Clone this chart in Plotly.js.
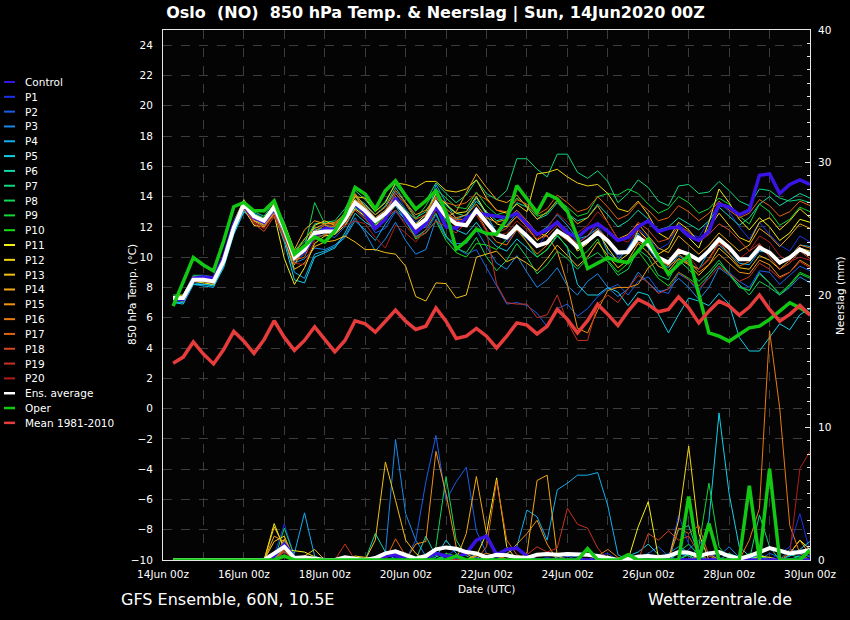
<!DOCTYPE html>
<html>
<head>
<meta charset="utf-8">
<script src="https://cdn.plot.ly/plotly-3.0.1.min.js"></script>
<style>
html,body{margin:0;padding:0;background:#000;}
#chart{width:850px;height:620px;}
</style>
</head>
<body>
<div id="chart"></div>
<script>
// ---------- DATA ----------
// 6-hourly steps from 14Jun2020 06z to 30Jun2020 00z (lead hours)
const leadHours = Array.from({length: 64}, (_, k) => 6 * (k + 1));
const tickLabels = ['14Jun 00z','16Jun 00z','18Jun 00z','20Jun 00z','22Jun 00z','24Jun 00z','26Jun 00z','28Jun 00z','30Jun 00z'];

const seriesNames = ['Control','P1','P2','P3','P4','P5','P6','P7','P8','P9','P10',
  'P11','P12','P13','P14','P15','P16','P17','P18','P19','P20'];
const seriesColors = ['#3a14e6','#1a30e8','#1a5ce8','#1a88ea','#12aef0','#12cfe6','#12d6a4','#12d67c','#12d656','#12d634','#14de14',
  '#f2f014','#f2d412','#f2c012','#f2a812','#f09212','#e87a12','#e06212','#d64624','#c83222','#b01c1c'];

// 850 hPa temperature (°C)
const t_ctrl = [7.2,7.2,8.6,8.7,8.6,10.0,12.2,13.4, 12.6,12.3,13.2,11.8,10.0,10.4,11.4,11.9, 11.8,12.6,13.5,12.9,11.9,12.5,13.9,12.6, 11.6,12.2,13.4,12.0,11.9,12.6,12.9,12.8, 12.7,12.6,12.9,12.2,11.5,11.8,12.3,11.6, 11.3,11.9,12.2,11.7,11.1,11.3,12.0,12.4, 11.7,11.9,12.0,11.4,11.1,11.7,13.5,13.3, 12.8,13.1,15.4,15.5,14.2,14.8,15.1,14.8];
const t_p1 = [7.4,7.4,8.7,8.6,8.5,9.9,12.1,13.3, 12.9,12.6,13.4,12.0,10.2,10.8,11.9,12.1, 12.0,12.9,14.1,13.4,12.6,13.1,14.3,13.2, 12.3,12.8,14.0,13.0,12.4,12.5,13.3,12.4, 11.7,11.0,11.8,11.2,10.6,11.6,12.4,11.8, 11.0,11.4,12.1,11.0,10.0,10.6,11.9,11.3, 10.5,10.9,12.2,11.6,11.3,12.4,13.6,13.0, 12.0,11.2,12.3,11.5,10.8,10.4,11.4,11.0];
const t_p2 = [7.1,7.2,8.4,8.4,8.3,9.6,11.8,13.3, 12.5,12.2,13.0,11.6,9.7,10.2,11.3,11.5, 11.3,12.0,13.2,12.6,11.6,11.9,13.0,12.3, 11.4,11.6,12.8,11.3,10.6,10.2,10.5,9.3, 8.0,6.9,7.0,6.8,6.3,5.4,6.6,6.9, 6.1,6.6,7.4,7.9,8.2,7.5,8.4,8.7, 7.8,7.6,8.9,8.5,7.7,8.8,9.6,9.0, 8.4,8.0,9.1,9.0,8.2,8.8,9.4,9.1];
const t_p3 = [7.3,7.1,8.3,8.2,8.2,9.5,11.7,13.0, 12.4,12.1,12.9,11.4,9.6,9.9,10.6,10.5, 10.8,11.4,12.6,11.6,10.4,11.2,12.3,11.1, 10.2,10.5,12.5,11.3,10.9,10.9,11.8,10.7, 9.6,9.2,10.1,9.0,8.0,8.5,9.3,8.1, 7.5,8.4,8.9,8.0,7.4,7.9,9.0,8.3, 7.7,7.9,8.6,8.0,7.2,8.0,9.3,8.8, 8.1,7.8,9.0,8.3,7.5,8.0,8.7,8.3];
const t_p4 = [7.0,7.0,8.2,8.1,8.0,9.4,11.6,13.1, 12.6,12.2,13.1,11.2,9.0,8.6,10.2,10.4, 10.7,11.3,12.4,11.8,11.1,12.2,13.1,12.5, 11.8,12.3,14.8,13.6,12.5,12.8,13.9,12.8, 11.6,12.1,12.9,12.2,11.5,12.0,12.8,12.1, 11.2,11.4,11.9,10.3,9.8,10.6,11.6,10.6, 9.7,9.3,10.1,9.6,9.2,10.4,10.8,10.2, 9.6,9.5,10.4,10.3,9.6,10.0,10.8,10.7];
const t_p5 = [7.0,6.9,8.2,8.2,8.1,9.3,11.5,13.0, 12.7,12.2,12.8,11.0,8.5,8.3,10.0,10.3, 10.6,11.6,12.9,12.3,11.9,12.6,13.4,12.4, 11.7,12.0,13.2,12.4,11.8,11.5,12.3,11.4, 10.7,10.4,11.2,10.6,10.0,10.5,11.4,10.7, 8.2,7.5,7.5,8.0,7.7,6.8,7.7,7.5, 6.3,5.0,6.2,7.3,7.1,6.8,7.6,6.9, 4.7,3.8,3.8,4.7,5.6,5.2,6.2,6.6];
const t_p6 = [7.3,7.3,8.5,8.6,8.5,9.9,12.1,13.6, 12.9,12.5,13.5,12.1,10.1,10.7,11.8,11.9, 12.0,12.9,14.0,13.5,12.8,13.4,14.6,13.6, 12.6,13.0,14.2,13.4,12.9,12.7,13.7,13.0, 12.4,12.6,13.6,13.3,12.5,12.8,13.6,12.9, 12.4,12.6,13.5,12.8,12.0,12.4,13.1,12.5, 11.8,12.0,12.6,12.2,11.8,12.4,13.3,12.7, 12.1,12.6,13.5,14.0,13.4,13.8,14.2,13.9];
const t_p7 = [7.5,7.5,8.8,8.8,8.7,10.1,12.4,13.7, 13.0,12.7,13.7,12.3,10.4,11.0,12.2,12.3, 12.4,13.2,14.4,13.8,13.0,13.7,14.8,14.0, 13.2,13.7,14.9,14.2,13.6,14.1,15.1,14.2, 13.8,14.4,16.5,16.5,15.8,15.3,16.8,16.8, 15.6,15.2,15.7,15.0,13.6,14.2,15.1,14.6, 13.7,13.4,14.7,14.8,14.2,14.3,15.0,14.4, 13.7,13.4,14.5,14.4,13.9,13.7,13.8,13.6];
const t_p8 = [7.2,7.3,8.6,8.5,8.4,9.8,12.0,13.4, 12.6,12.3,13.3,11.6,9.9,10.6,13.6,12.2, 11.6,12.3,13.3,12.8,12.1,12.9,13.8,12.5, 11.3,11.8,12.9,11.4,10.6,10.3,11.3,10.0, 9.1,9.8,10.9,10.0,8.9,9.5,10.4,9.9, 9.2,9.9,10.3,9.7,8.8,9.2,10.5,10.0, 8.8,8.5,9.8,9.2,8.4,9.0,9.8,8.9, 8.2,7.5,8.4,8.0,7.5,8.1,8.9,8.6];
const t_p9 = [7.1,7.1,8.4,8.4,8.3,9.7,11.9,13.5, 12.8,12.5,13.4,12.2,10.4,11.2,12.0,11.8, 11.8,12.6,13.8,13.3,12.5,13.0,14.0,13.1, 12.5,13.4,14.5,13.9,13.3,13.2,14.3,13.4, 12.8,13.0,13.9,13.4,12.7,12.9,13.8,13.3, 12.7,12.9,14.0,14.2,14.1,14.5,14.2,13.5, 12.9,13.2,14.0,13.6,12.9,13.2,13.9,13.5, 12.7,12.2,13.5,13.0,12.1,12.5,13.3,13.0];
const t_p10 = [7.4,7.4,8.6,8.7,8.6,10.0,12.2,13.5, 12.8,12.6,13.5,12.1,10.3,10.6,11.2,11.5, 11.9,12.8,14.0,13.2,12.2,12.7,13.7,12.4, 11.2,11.6,12.4,11.1,10.3,10.0,10.9,10.8, 10.5,11.2,12.0,11.0,10.0,10.5,11.5,10.6, 9.9,10.4,11.2,9.8,9.0,9.6,10.4,9.5, 8.6,8.1,9.0,8.6,8.1,8.8,9.6,8.9, 8.0,7.8,8.9,8.3,7.6,8.2,9.0,8.7];
const t_p11 = [7.2,7.1,8.4,8.3,8.2,9.6,11.8,13.2, 12.1,12.0,12.8,9.9,8.2,9.3,10.9,11.4, 11.5,12.1,13.2,12.7,12.1,12.6,13.9,12.9, 12.2,12.8,14.2,13.5,12.9,13.0,14.0,12.9, 12.2,12.0,12.7,12.0,11.1,11.6,12.4,11.5, 10.4,10.9,11.7,10.6,9.7,10.2,11.8,11.1, 10.2,10.6,11.9,11.3,10.6,12.3,14.5,13.6, 12.5,11.8,12.6,12.0,11.1,11.6,12.5,12.3];
const t_p12 = [7.3,7.4,8.6,8.6,8.5,9.8,12.1,13.6, 12.4,12.2,13.2,11.5,9.5,10.6,12.1,12.4, 12.1,12.7,14.0,13.9,13.0,13.6,14.9,14.8, 14.6,15.0,15.0,14.4,14.3,14.5,15.1,13.9, 13.1,12.9,13.5,13.0,15.5,15.6,15.8,15.3, 14.9,14.7,14.8,14.2,13.2,13.0,13.7,12.8, 11.6,11.2,12.3,11.8,11.0,11.9,12.9,12.1, 11.3,11.0,12.3,12.6,11.8,12.4,13.2,12.6];
const t_p13 = [7.1,7.2,8.5,8.4,8.3,9.7,11.9,13.3, 12.5,12.1,12.9,11.3,9.2,9.6,10.7,11.0, 11.1,11.4,11.0,10.5,10.5,10.3,10.2,9.4, 7.4,7.1,8.3,8.25,7.3,7.5,10.0,10.2, 10.4,9.7,10.0,9.6,9.1,9.9,10.8,10.1, 9.4,10.0,11.0,10.1,9.3,9.8,10.9,10.3, 9.4,9.1,9.9,9.5,8.8,9.5,10.6,10.0, 9.3,9.2,10.1,9.8,9.2,9.8,10.6,10.4];
const t_p14 = [7.4,7.5,8.7,8.7,8.6,10.1,12.3,13.8, 12.7,12.3,13.6,12.2,10.5,11.8,12.4,12.2, 12.2,12.9,14.2,13.3,12.6,13.1,14.0,12.8, 12.1,12.6,13.3,12.6,13.0,14.2,15.5,14.6, 13.8,13.6,14.1,13.3,12.5,13.0,13.7,12.9, 12.2,12.6,13.4,12.3,11.2,11.5,12.2,11.4, 10.6,10.3,11.4,10.8,10.2,10.8,11.6,11.0, 10.4,10.8,11.9,11.4,10.7,11.4,12.2,11.9];
const t_p15 = [7.2,7.3,8.6,8.5,8.4,9.9,12.1,13.5, 12.4,12.0,12.9,11.7,10.2,11.2,11.9,12.2, 12.3,12.8,13.8,13.4,12.8,13.3,14.4,13.6, 12.8,13.1,13.9,13.2,12.6,12.8,13.5,12.6, 12.3,12.5,13.1,12.4,11.6,11.4,10.4,8.2, 5.3,5.0,6.5,7.8,8.0,8.0,8.2,9.3, 9.8,9.5,10.2,9.7,9.0,9.5,10.2,9.6, 9.0,8.9,9.8,9.5,8.7,9.0,9.8,9.4];
const t_p16 = [7.3,7.2,8.5,8.6,8.5,9.9,12.0,13.6, 12.8,12.4,13.4,11.9,9.9,10.5,11.7,12.1, 12.0,12.9,14.1,13.1,12.0,12.7,13.6,12.8, 11.8,12.4,13.6,12.9,12.5,12.5,13.0,11.8, 11.0,10.8,11.8,11.0,10.2,10.8,11.6,11.1, 10.6,11.1,11.9,11.2,10.4,10.2,11.0,10.7, 9.9,9.4,9.9,9.6,9.2,9.9,11.0,10.2, 9.4,9.7,10.8,10.3,9.5,10.0,10.8,10.6];
const t_p17 = [7.4,7.4,8.7,8.6,8.5,9.9,12.1,13.4, 12.3,11.9,13.1,11.8,9.8,10.0,11.5,11.9, 12.1,12.9,13.8,13.2,12.4,13.0,14.2,13.5, 12.5,12.8,14.0,13.6,13.4,13.6,14.2,13.8, 13.1,13.0,13.8,13.5,12.8,13.2,14.1,13.6, 13.0,13.2,14.0,13.3,12.5,12.8,13.6,13.1, 12.4,12.6,13.4,13.0,12.4,12.9,13.7,13.1, 12.6,12.9,13.8,13.4,12.7,13.0,13.7,13.4];
const t_p18 = [7.2,7.3,8.5,8.4,8.3,9.7,11.9,13.3, 12.2,11.7,12.7,11.2,9.8,10.3,11.2,11.5, 11.6,12.2,13.1,12.5,11.8,12.4,13.5,12.7, 11.9,12.3,13.5,12.9,12.4,12.2,13.1,12.2, 11.6,11.9,12.7,12.0,11.2,11.4,12.1,11.5, 10.9,11.4,12.3,11.8,11.1,11.4,12.3,11.8, 11.0,11.2,12.0,11.7,11.0,11.5,12.2,11.8, 11.1,10.4,10.9,10.0,9.2,9.6,10.4,9.9];
const t_p19 = [7.3,7.4,8.6,8.5,8.5,9.8,12.0,13.4, 12.5,12.3,13.2,12.0,10.1,10.6,11.6,11.8, 11.6,12.4,13.5,12.7,12.0,12.6,13.1,12.1, 11.3,11.6,12.4,12.0,11.6,12.3,12.8,11.7, 8.2,7.0,6.9,6.9,6.0,6.2,7.5,5.7, 4.5,4.5,6.9,7.5,7.0,7.9,8.8,8.3, 7.6,7.9,9.0,8.5,7.9,8.6,9.4,8.9, 8.4,8.7,9.6,9.2,8.6,9.0,9.7,9.3];
const t_p20 = [7.2,7.2,8.4,8.4,8.3,9.6,11.8,13.2, 12.3,11.9,12.8,11.3,9.6,9.5,11.1,11.9, 11.7,12.1,12.4,12.2,11.3,10.6,12.1,11.6, 11.0,11.8,13.1,12.6,12.0,12.1,13.0,12.1, 11.4,11.6,12.4,11.8,11.2,11.9,12.9,12.3, 11.6,12.1,13.0,12.3,11.2,11.0,11.8,10.9, 9.9,9.6,10.6,10.1,9.2,9.8,10.9,10.5, 9.9,10.4,11.4,11.0,10.1,9.7,10.0,9.8];
const t_ensavg = [7.3,7.3,8.5,8.5,8.4,9.75,11.95,13.5, 12.7,12.4,13.3,11.85,9.97,10.5,11.6,11.7, 11.7,12.5,13.6,13.06,12.4,12.88,13.61,12.88, 12.0,12.5,13.6,12.7,12.2,12.1,13.1,12.3, 11.5,11.3,12.0,11.4,10.74,10.96,11.73,11.29, 10.65,11.07,11.62,11.07,10.3,10.34,11.29,10.85, 9.97,9.64,10.41,10.19,9.79,10.41,11.18,10.63, 9.86,9.86,10.63,10.3,9.64,9.97,10.52,10.19];
const t_oper = [6.77,8.42,9.97,9.48,9.09,11.07,13.33,13.61, 13.06,13.06,13.72,11.95,10.19,10.74,11.34,11.0, 11.73,12.84,14.6,14.17,13.17,14.39,15.05,14.06, 13.17,13.72,14.39,12.95,10.52,11.07,11.85,11.56, 11.52,12.51,14.72,13.84,12.95,14.17,13.84,13.06, 11.3,9.25,9.64,9.97,9.75,9.64,10.41,11.18, 9.97,8.87,9.53,10.08,7.54,5.0,4.78,4.45, 4.89,5.33,5.44,5.89,6.43,6.99,6.65,6.22];
const t_clim = [3.0,3.4,4.4,3.6,2.95,3.9,5.1,4.45, 3.65,4.55,5.8,4.7,3.85,4.5,5.4,4.55, 3.75,4.5,5.8,5.6,5.05,5.77,6.5,5.77, 5.22,5.44,6.65,5.77,4.63,4.78,5.29,4.78, 4.0,4.78,5.66,5.51,4.93,5.44,6.55,5.89, 5.0,5.8,6.88,6.22,5.49,6.43,7.21,6.88, 6.39,6.55,7.38,6.65,5.66,6.43,7.1,6.77, 6.17,6.7,7.5,6.55,5.77,6.22,6.81,6.17];

// 6-hourly precipitation (mm)
const r_ctrl = [0,0,0,0,0,0,0,0, 0,0,0.3,1.2,0.2,0,0,0, 0,0,0,0,0,0.3,0.4,0.1, 0,0.2,0.5,0.3,0.2,0.5,1.5,1.8, 0.4,0.8,0.9,0.3,0,0,0,0, 0,0,0,0,0,0,0,0, 0,0,0,0,0,0,0,0, 0,0,0,0,0,0,0,0];
const r_p1 = [0,0,0,0,0,0,0,0, 0,0,0.4,2.7,0.3,0,0,0, 0,0,0,0,0,0,0.2,0, 0,0,0,0.3,0.8,0.4,0.2,0, 0,0,0,0,0,0.2,0,0, 0,0,0.3,0.5,0,0,0.4,0.2, 0,0,3.4,1.2,0.3,0.5,0.2,0, 0,0.4,0.2,0,0.5,1.0,3.5,0.6];
const r_p2 = [0,0,0,0,0,0,0,0, 0,0,0,1.0,0.2,0,0,0, 0,0,0,0,0,0,0,0, 1.5,5.9,9.4,4.5,5.9,7.0,2.2,0.5, 0.2,0,0,0,0,0,0,0.3, 0,0,0,0,0,0,0.2,0.5, 1.0,0.3,0,0.8,1.5,0.4,0,0, 0.3,0,0,0.5,0.2,0,0.4,0.3];
const r_p3 = [0,0,0,0,0,0,0,0, 0,0,0.2,1.5,0.2,0,0,0, 0,0,0,0,0,0.5,9.1,3.5, 1.5,0.3,0,0,0,0,0.2,0, 0,0,0,0,0,0,0.2,0.4, 0.2,0,0,0,0,0,0,0, 0,0.5,1.0,0.6,0,0,0.3,1.0, 0.2,0,0.5,0,0,0.8,0.6,0.2];
const r_p4 = [0,0,0,0,0,0,0,0, 0,0,0.5,0.8,0.5,3.56,0.3,0, 0,0,0,0,0,0,0,0, 0,0,0,0,0,0,0.5,0.3, 0,0.5,1.0,3.77,3.26,1.5,5.3,5.8, 6.4,6.4,6.6,4.1,0.4,0,0,0, 0,0,0.5,0.3,0,0,0,0, 0,0.2,0,0,0,0.3,0.8,1.4];
const r_p5 = [0,0,0,0,0,0,0,0, 0,0,0,0.6,0.2,0,0,0, 0,0,0,0,0,0,0,0, 0,0.3,0.2,1.5,0.5,0,0,0, 0,0,0,0,0,0,0,0, 0,0,0,0,0,0.3,0.6,1.2, 0.4,0,0,0.5,0.5,3.0,11.1,5.0, 1.0,0.3,0,0,0,0,0,0];
const r_p6 = [0,0,0,0,0,0,0,0, 0,0,0,1.3,0.1,0,0,0, 0,0,0,0,2.0,0.6,0,0, 0,1.8,0.3,0,0,0,0,0, 0,0,0,0,0,0,0,0, 0,0,0,0,0,0,0,0, 0,0,2.3,2.6,0.3,0,0,0.5, 0.2,0,0.3,0,0,0.4,0.2,0];
const r_p7 = [0,0,0,0,0,0,0,0, 0,0,0,1.1,0,0,0,0, 0,0,0,0,0,0,0,0, 0,0,0,0.3,0,0,0,0, 0,0,0,0,0,0,0,0, 0,0,0,0,0,0,0,0, 0,0,0,0,0,0,0,0, 0,0,3.4,1.0,0,0,0,0];
const r_p8 = [0,0,0,0,0,0,0,0, 0,0,0,2.4,0.3,0,0,0, 0,0,0,0,0,0,0,0, 0,0,1.0,6.3,1.5,0.3,0,0, 0,0,0,0,0,0,0,0, 0,0,0,0,0,0,0,0, 0,0,0.6,1.2,0.4,0,0,0, 0,0,0,0,0,0,0.3,0];
const r_p9 = [0,0,0,0,0,0,0,0, 0,0,0,1.5,0,0,0,0, 0,0,0,0,0,0,0,0, 0,0,0,0.5,0.3,0,0,0, 0,0,0,0,0,0,0,0, 0,0,0,0,0,0,0,0, 0,0,0,0,1.0,5.8,1.0,0, 0,0,0,0,0,0,0,0];
const r_p10 = [0,0,0,0,0,0,0,0, 0,0,0,1.2,0,0,0,0, 0,0,0,0,0,0,0,0, 0,0,0,0,0.4,0,0,0, 0,0,0,0,0,0,0,0, 0,0,0,0,0,0,0,0, 0,0,0,0.4,0.2,0,0,0, 0,0.5,0.3,0,0,0,0,0];
const r_p11 = [0,0,0,0,0,0,0,0, 0,0,2.75,0.8,0.7,0.6,0.25,0, 0,0,0,0,0,0,0,0, 0,0,0,0,0,0,0.3,2.0, 6.2,1.0,0,0,0,0,0,0, 0,0,0,0.3,0,0,2.5,4.4, 0.2,0,0,0,0,0,0,0, 0,0,0.3,0.2,0,0.5,1.5,0.8];
const r_p12 = [0,0,0,0,0,0,0,0, 0,0,1.4,1.8,0,0,0,0, 0,0,0.3,0.2,0,0,0,0, 0,0,0,0,0,0,0.4,0, 0,0,0,0,0,0,0,0, 0,0,0,0,0,0,0,0, 0,0,3.0,8.6,2.0,0,0,0, 0,0,0,0,0,0,0,0];
const r_p13 = [0,0,0,0,0,0,0,0, 0,0,2.5,1.0,0,0.3,0.8,0, 0,0,0.1,0,1.5,7.4,4.5,1.5, 0.5,0,0,0,0,0,0,0, 0,0,0,0,0,0,0,0, 0,0,0,0,0,0,0,0, 0,0,0,0,0,0,0,0, 0,0,0,0,0,0,0,0];
const r_p14 = [0,0,0,0,0,0,0,0, 0,0,1.8,1.4,0,0,0,0, 0,0,0.2,0,0,0,0,0, 0,0,0,0,0,2.0,6.3,2.0, 0.5,0,0,0.5,6.0,6.4,0.3,0, 0,0,0,0,0,0,0,0, 0,0,0,0,0,0,0,0, 0,0,0,0,0,0.5,1.5,0.4];
const r_p15 = [0,0,0,0,0,0,0,0, 0,0,0,1.6,0.2,0,0,0, 0,0,0,0,0,0,0,0, 1.2,1.4,8.2,5.0,1.0,0.5,0,0, 0,0.4,1.2,2.0,3.0,1.2,0,0, 0,0,0,0,0,0,0,0, 0,0,0,0,0.3,0.5,0,0, 0,0,0,0,0,0,0,0];
const r_p16 = [0,0,0,0,0,0,0,0, 0,0,0,0.9,0,0,0,0, 0,0,0,0,0,0,0,0, 0,0,0,0,0,0,0.3,0.5, 0.3,0,0,0,0,0,0,0, 0,0,0.3,0.8,0.2,0,0,0, 0,0,0,0,0,0,0,0, 0,1.5,3.9,17.3,11.5,2.6,0.5,0];
const r_p17 = [0,0,0,0,0,0,0,0, 0,0,0,0.8,0,0,0,0, 0,0,0,0,0,0,1.6,0.3, 0,0,0,0,0.4,0,0,1.0, 6.0,1.5,0.4,0,0,0,0,0, 0,0,0,0,0,0,0,0, 0,0,2.4,2.0,2.6,0.3,0,0, 0,0,0,0,0,0,0,0];
const r_p18 = [0,0,0,0,0,0,0,0, 0,0,0,0.7,0,0,0,0, 0,0,0,0,0,0,0,0, 0,0,0,0,0,0,0,0, 0,0,0,0,0,0,0,0, 0,0,0,0,0,0,0,2.0, 1.5,2.2,1.5,1.8,0.5,0,0,0, 0,0,0,0,0,0,0,0];
const r_p19 = [0,0,0,0,0,0,0,0, 0,0,0,0.6,0,0,0,0, 0,1.2,0,0,0,0,0,0, 0,0,0,0,0,0,0,0, 0,0,0,0.4,1.0,0.6,0.9,3.9, 2.7,2.4,0.9,0,0,0,0,0, 0,0,0,0,0,0,0,0, 0,0,0,0,0,0,0,0];
const r_p20 = [0,0,0,0,0,0,0,0, 0,0,0,0.4,0,0,0,0, 0,0,0,0,0,0,0,0, 0,0,0,0,0,0,0,0, 0,0,0,0,0,0,0,0, 0,0,0,0,0,0,0,0, 0,0,0,0,0,0,0,0, 0,0,0,0,0,0.5,6.9,8.2];
const r_ensavg = [0,0,0,0,0,0,0,0, 0,0,0.5,1.0,0.15,0.2,0.1,0, 0,0.2,0.1,0,0.15,0.5,0.65,0.4, 0.1,0.3,0.8,0.95,0.85,0.6,0.5,0.2, 0.4,0.35,0.2,0.15,0.4,0.45,0.4,0.45, 0.45,0.4,0.3,0.15,0,0.1,0.25,0.3, 0.2,0.3,0.6,0.55,0.3,0.5,0.6,0.3, 0.1,0.3,0.6,0.9,0.7,0.5,0.6,0.75];
const r_oper = [0,0,0,0,0,0,0,0, 0,0,0,0.3,0,0,0,0, 0,0,0,0,0,0,0,0, 0,0,0,0,0.3,0,0,0, 0,0,0,0,0,0,0,0, 0,0.86,0,0,0,0.4,0,0, 0,0,0,4.8,0,2.75,0,0, 0,5.6,0,6.9,0,0,0,0.75];

const tempSeries = [t_ctrl,t_p1,t_p2,t_p3,t_p4,t_p5,t_p6,t_p7,t_p8,t_p9,t_p10,t_p11,t_p12,t_p13,t_p14,t_p15,t_p16,t_p17,t_p18,t_p19,t_p20];
const precSeries = [r_ctrl,r_p1,r_p2,r_p3,r_p4,r_p5,r_p6,r_p7,r_p8,r_p9,r_p10,r_p11,r_p12,r_p13,r_p14,r_p15,r_p16,r_p17,r_p18,r_p19,r_p20];

// ---------- STYLE / LAYOUT ----------
const FONT = 'DejaVu Sans, Verdana, sans-serif';
const W = 850, H = 620, L = 163, R = 810, T = 30, B = 560;
const px2x = px => (px - L) / (R - L);
const py2y = py => (B - py) / (B - T);

const traces = [];
for (let k = 1; k < tempSeries.length; k++) {
  traces.push({x: leadHours, y: tempSeries[k], type: 'scatter', mode: 'lines', name: seriesNames[k],
    line: {color: seriesColors[k], width: 1}, hoverinfo: 'skip'});
}
traces.push({x: leadHours, y: t_ctrl, type: 'scatter', mode: 'lines', name: 'Control',
  line: {color: seriesColors[0], width: 3.5}, hoverinfo: 'skip'});
traces.push({x: leadHours, y: t_ensavg, type: 'scatter', mode: 'lines', name: 'Ens. average',
  line: {color: '#ffffff', width: 4}, hoverinfo: 'skip'});
traces.push({x: leadHours, y: t_oper, type: 'scatter', mode: 'lines', name: 'Oper',
  line: {color: '#12c812', width: 3.5}, hoverinfo: 'skip'});
traces.push({x: leadHours, y: t_clim, type: 'scatter', mode: 'lines', name: 'Mean 1981-2010',
  line: {color: '#e63c3c', width: 3.5}, hoverinfo: 'skip'});
for (let k = 1; k < precSeries.length; k++) {
  traces.push({x: leadHours, y: precSeries[k], yaxis: 'y2', type: 'scatter', mode: 'lines', name: seriesNames[k] + ' rr',
    line: {color: seriesColors[k], width: 1}, hoverinfo: 'skip'});
}
traces.push({x: leadHours, y: r_ctrl, yaxis: 'y2', type: 'scatter', mode: 'lines', name: 'Control rr',
  line: {color: seriesColors[0], width: 3.5}, hoverinfo: 'skip'});
traces.push({x: leadHours, y: r_ensavg, yaxis: 'y2', type: 'scatter', mode: 'lines', name: 'Ens. average rr',
  line: {color: '#ffffff', width: 4}, hoverinfo: 'skip'});
traces.push({x: leadHours, y: r_oper, yaxis: 'y2', type: 'scatter', mode: 'lines', name: 'Oper rr',
  line: {color: '#12c812', width: 3.5}, hoverinfo: 'skip'});

// custom legend (annotations + line samples)
const legendNames = seriesNames.concat(['Ens. average', 'Oper', 'Mean 1981-2010']);
const legendColors = seriesColors.concat(['#ffffff', '#12c812', '#e63c3c']);
const annotations = [];
const shapes = [];
legendNames.forEach((nm, k) => {
  const py = 82 + k * 14.82;
  const thick = k >= 21 ? 2.5 : 2;
  shapes.push({type: 'line', xref: 'paper', yref: 'paper', x0: px2x(4), x1: px2x(15), y0: py2y(py), y1: py2y(py),
    line: {color: legendColors[k], width: thick}});
  annotations.push({xref: 'paper', yref: 'paper', x: px2x(23), y: py2y(py), xanchor: 'left', yanchor: 'middle',
    text: nm, showarrow: false, font: {family: FONT, size: 10.5, color: '#ffffff'}});
});
annotations.push({xref: 'paper', yref: 'paper', x: px2x(132), y: py2y(295), xanchor: 'center', yanchor: 'middle',
  text: '850 hPa Temp. (°C)', textangle: -90, showarrow: false, font: {family: FONT, size: 10.5, color: '#ffffff'}});
annotations.push({xref: 'paper', yref: 'paper', x: px2x(840), y: py2y(295), xanchor: 'center', yanchor: 'middle',
  text: 'Neerslag (mm)', textangle: -90, showarrow: false, font: {family: FONT, size: 10.5, color: '#ffffff'}});
annotations.push({xref: 'paper', yref: 'paper', x: px2x(486.5), y: py2y(589), xanchor: 'center', yanchor: 'middle',
  text: 'Date (UTC)', showarrow: false, font: {family: FONT, size: 10.5, color: '#ffffff'}});
annotations.push({xref: 'paper', yref: 'paper', x: px2x(119), y: py2y(599), xanchor: 'left', yanchor: 'middle',
  text: 'GFS Ensemble, 60N, 10.5E', showarrow: false, font: {family: FONT, size: 16, color: '#ffffff'}});
annotations.push({xref: 'paper', yref: 'paper', x: px2x(794), y: py2y(599), xanchor: 'right', yanchor: 'middle',
  text: 'Wetterzentrale.de', showarrow: false, font: {family: FONT, size: 16, color: '#ffffff'}});

const xTickVals = [], xTickText = [];
for (let d = 0; d <= 16; d++) {
  xTickVals.push(d * 24);
  xTickText.push(d % 2 === 0 ? tickLabels[d / 2] : '');
}
const yTickVals = [];
for (let v = -10; v <= 24; v += 2) yTickVals.push(v);

const layout = {
  width: W, height: H,
  paper_bgcolor: '#000000', plot_bgcolor: '#040404',
  margin: {l: L, r: W - R, t: T, b: H - B, pad: 0},
  showlegend: false,
  font: {family: FONT, color: '#ffffff', size: 10.5},
  title: {text: '<b>Oslo\u00a0\u00a0(NO)\u00a0\u00a0850 hPa Temp. &amp; Neerslag | Sun, 14Jun2020 00Z</b>',
    font: {family: FONT, size: 16, color: '#ffffff'}, xref: 'container', yref: 'container',
    x: 435.5 / W, xanchor: 'center', y: 1 - 12 / H, yanchor: 'middle'},
  xaxis: {range: [0, 384], tickmode: 'array', tickvals: xTickVals, ticktext: xTickText, ticks: '',
    showgrid: true, gridcolor: '#3c3c3c', griddash: 'dash', gridwidth: 1, zeroline: false,
    showline: true, linecolor: '#e6e6e6', linewidth: 1, mirror: true,
    tickfont: {family: FONT, size: 10.5, color: '#ffffff'}, ticklabelstandoff: 4, fixedrange: true},
  yaxis: {range: [-10, 25], tickmode: 'array', tickvals: yTickVals, ticks: '',
    showgrid: true, gridcolor: '#3c3c3c', griddash: 'dash', gridwidth: 1, zeroline: false,
    showline: true, linecolor: '#e6e6e6', linewidth: 1, mirror: true,
    tickfont: {family: FONT, size: 10.5, color: '#ffffff'}, ticklabelstandoff: 7, fixedrange: true},
  yaxis2: {range: [0, 40], overlaying: 'y', side: 'right', tickmode: 'linear', tick0: 0, dtick: 10,
    ticks: 'inside', ticklen: 5, tickcolor: '#e6e6e6', showgrid: false, zeroline: false,
    minor: {dtick: 1, ticks: 'inside', ticklen: 3, tickcolor: '#e6e6e6', showgrid: false},
    showline: true, linecolor: '#e6e6e6', linewidth: 1,
    tickfont: {family: FONT, size: 10.5, color: '#ffffff'}, ticklabelstandoff: 5, fixedrange: true},
  annotations: annotations,
  shapes: shapes
};

Plotly.newPlot('chart', traces, layout, {staticPlot: true, displayModeBar: false});
</script>
</body>
</html>
